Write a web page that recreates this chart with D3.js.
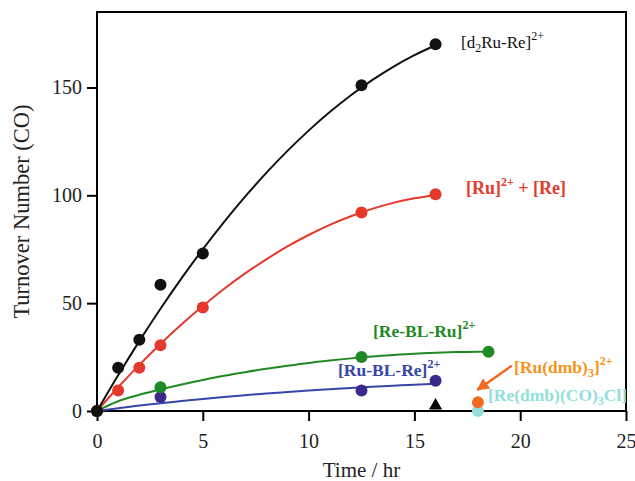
<!DOCTYPE html>
<html><head><meta charset="utf-8">
<script src="https://cdn.jsdelivr.net/npm/d3@7"></script>
<style>body{margin:0;background:#fff}svg{display:block}text{font-family:"Liberation Serif","Times New Roman",serif}</style>
</head><body><svg id="c" width="635" height="481"></svg>
<script>
// ---- data ----
const xTicks = [0, 5, 10, 15, 20, 25];
const yTicks = [0, 50, 100, 150];

const d2RuRe_t = [0, 1, 2, 3, 5, 12.5, 16];
const d2RuRe_v = [0, 20, 33, 58.5, 73, 151, 170];
const d2RuRe_fitT = [0,1,2,3,4,5,6,7,8,9,10,11,12,13,14,15,16];
const d2RuRe_fitV = [0,16.6,32.4,47.4,61.6,75,87.6,99.4,110.4,120.6,130,138.6,146.4,153.4,159.6,165,169.6];

const RuRe_t = [0, 1, 2, 3, 5, 12.5, 16];
const RuRe_v = [0, 9.5, 20, 30.5, 48, 92, 100.5];
const RuRe_fitT = [0,1,2,3,4,5,6,7,8,9,10,11,12,13,14,15,16];
const RuRe_fitV = [0,11.0,21.4,31.1,40.2,48.7,56.6,63.8,70.3,76.3,81.6,86.3,90.3,93.7,96.5,98.6,100.2];

const ReBLRu_t = [0, 3, 12.5, 18.5];
const ReBLRu_v = [0, 11, 25, 27.5];
const ReBLRu_fitT = [0,1,2,3,4,5,6,7,8,9,10,11,12,13,14,15,16,17,18,18.5];
const ReBLRu_fitV = [0,4.5,7.5,10,12.3,14.4,16.3,18.0,19.6,21.0,22.3,23.4,24.4,25.3,26.0,26.6,27.0,27.3,27.5,27.5];

const RuBLRe_t = [0, 3, 12.5, 16];
const RuBLRe_v = [0, 6.5, 9.5, 14];
const RuBLRe_fitT = [0,1,2,3,4,5,6,7,8,9,10,11,12,13,14,15,16];
const RuBLRe_fitV = [0,1.3,2.5,3.6,4.6,5.6,6.5,7.3,8.1,8.8,9.5,10.1,10.7,11.2,11.7,12.2,12.6];

const triangle_t = [16];
const triangle_v = [2.5];
const Rudmb_t = [18];
const Rudmb_v = [4];
const Redmb_t = [18];
const Redmb_v = [0];

// ---- layout ----
const svg = d3.select("#c");
const L = 97, R = 626, T = 12, B = 411;
const x = d3.scaleLinear().domain([0, 25]).range([L, R]);
const y = d3.scaleLinear().domain([0, 185]).range([B, T]);

const C = {black:"#111111", red:"#e5392b", green:"#1f8a24", blue:"#3646a8", bluePt:"#3b2a8c",
           orange:"#f06a22", orangeTxt:"#f7941d", cyan:"#92dfda"};

// axes
const xa = svg.append("g").attr("transform", `translate(0,${B})`)
  .call(d3.axisBottom(x).tickValues(xTicks).tickSize(10).tickPadding(13).tickFormat(d3.format("d")));
const ya = svg.append("g").attr("transform", `translate(${L},0)`)
  .call(d3.axisLeft(y).tickValues(yTicks).tickSize(10).tickPadding(5).tickFormat(d3.format("d")));
[xa, ya].forEach(g => {
  g.select(".domain").remove();
  g.selectAll("line").attr("stroke", "#000").attr("stroke-width", 2);
  g.selectAll("text").attr("font-size", 20).attr("fill", "#222")
    .style("font-family", '"Liberation Serif","Times New Roman",serif');
});
// frame
svg.append("rect").attr("x", L).attr("y", T).attr("width", R - L).attr("height", B - T)
  .attr("fill", "none").attr("stroke", "#000").attr("stroke-width", 2);

// titles
svg.append("text").attr("x", (L + R) / 2).attr("y", 477).attr("text-anchor", "middle")
  .attr("font-size", 21).attr("fill", "#222").text("Time / hr");
svg.append("text").attr("transform", `translate(29,${(T + B) / 2}) rotate(-90)`).attr("text-anchor", "middle")
  .attr("font-size", 22.5).attr("fill", "#222").text("Turnover  Number (CO)");

// curves
const line = d3.line().x(d => x(d[0])).y(d => y(d[1])).curve(d3.curveMonotoneX);
function fit(ts, vs, col) {
  svg.append("path").datum(ts.map((t, i) => [t, vs[i]])).attr("d", line)
    .attr("fill", "none").attr("stroke", col).attr("stroke-width", 2);
}
function pts(ts, vs, col, r = 6) {
  svg.append("g").selectAll("circle").data(ts.map((t, i) => [t, vs[i]])).join("circle")
    .attr("cx", d => x(d[0])).attr("cy", d => y(d[1])).attr("r", r).attr("fill", col);
}
fit(RuBLRe_fitT, RuBLRe_fitV, C.blue);
fit(ReBLRu_fitT, ReBLRu_fitV, C.green);
fit(RuRe_fitT, RuRe_fitV, C.red);
fit(d2RuRe_fitT, d2RuRe_fitV, C.black);
pts(RuBLRe_t, RuBLRe_v, C.bluePt);
pts(ReBLRu_t, ReBLRu_v, C.green);
pts(RuRe_t, RuRe_v, C.red);
pts(d2RuRe_t, d2RuRe_v, C.black);
pts(Redmb_t, Redmb_v, C.cyan);
pts(Rudmb_t, Rudmb_v, C.orange);

svg.append("g").selectAll("path").data(triangle_t.map((t, i) => [t, triangle_v[i]])).join("path")
  .attr("transform", d => `translate(${x(d[0])},${y(d[1])})`)
  .attr("d", d3.symbol(d3.symbolTriangle, 75)).attr("fill", "#000");

// arrow
svg.append("defs").append("marker").attr("id", "ah").attr("viewBox", "0 0 10 10")
  .attr("refX", 9).attr("refY", 5).attr("markerWidth", 5).attr("markerHeight", 5).attr("orient", "auto")
  .attr("markerUnits", "strokeWidth")
  .append("path").attr("d", "M0,0 L10,5 L0,10 z").attr("fill", C.orange);
svg.append("line").attr("x1", x(19.6)).attr("y1", y(21)).attr("x2", x(17.98)).attr("y2", y(9.8))
  .attr("stroke", C.orange).attr("stroke-width", 2.5).attr("marker-end", "url(#ah)");

// labels
function label(px, py, col, bold, size, parts) {
  const t = svg.append("text").attr("x", px).attr("y", py).attr("fill", col).attr("font-size", size)
    .attr("font-weight", bold ? "bold" : "normal");
  parts.forEach(p => {
    const s = t.append("tspan").text(p[0]);
    if (p[1] === "sup") s.attr("dy", -8).attr("font-size", 12);
    if (p[1] === "sub") s.attr("dy", 4).attr("font-size", 12);
    if (p[1] === "back") s.attr("dy", p[2]);
  });
}
label(461, 48, C.black, false, 17, [["[d"], ["2", "sub"], ["Ru-Re]", "back", -4], ["2+", "sup"]]);
label(466, 194, C.red, true, 18, [["[Ru]"], ["2+", "sup"], [" + [Re]", "back", 8]]);
label(373, 337, C.green, true, 17.5, [["[Re-BL-Ru]"], ["2+", "sup"]]);
label(338, 376, C.blue, true, 17.5, [["[Ru-BL-Re]"], ["2+", "sup"]]);
label(514, 373, C.orangeTxt, true, 17.5, [["[Ru(dmb)"], ["3", "sub"], ["]", "back", -4], ["2+", "sup"]]);
label(488, 401, C.cyan, true, 17.5, [["[Re(dmb)(CO)"], ["3", "sub"], ["Cl]", "back", -4]]);
</script></body></html>
